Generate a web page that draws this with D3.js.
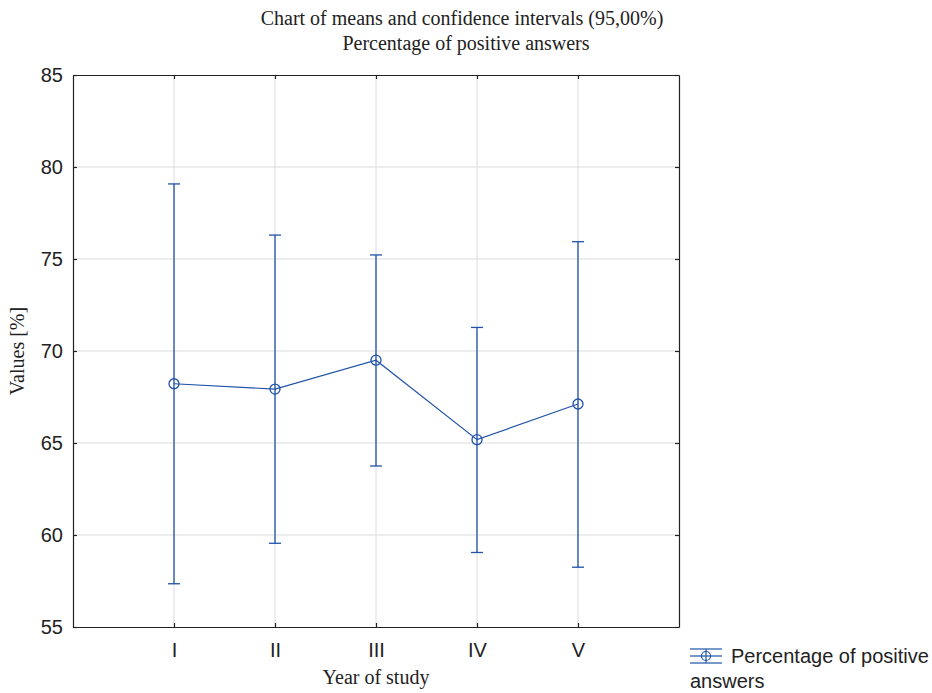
<!DOCTYPE html>
<html>
<head>
<meta charset="utf-8">
<script src="https://cdn.jsdelivr.net/npm/d3@7"></script>
<style>
  body { margin: 0; background: #fff; }
</style>
</head>
<body>
<div id="chart"></div>
<script>
const categories = ["I", "II", "III", "IV", "V"]
const means = [68.22, 67.93, 69.50, 65.18, 67.12]
const upper = [79.08, 76.30, 75.22, 71.28, 75.94]
const lower = [57.35, 59.55, 63.75, 59.05, 58.25]
const yTicks = [55, 60, 65, 70, 75, 80, 85]

const width = 932, height = 693
const plot = { left: 73, top: 75, right: 679, bottom: 627 }
const blue = "#1f52a8"
const sans = "Liberation Sans, Arial, sans-serif"
const serif = "Liberation Serif, Times New Roman, serif"

const svg = d3.select("#chart").append("svg")
    .attr("width", width)
    .attr("height", height)

// scales: categories sit at 1..5 on a 0..6 axis
const x = d3.scaleLinear().domain([0, categories.length + 1]).range([plot.left, plot.right])
const y = d3.scaleLinear().domain([55, 85]).range([plot.bottom, plot.top])

// Grid
svg.append("g")
    .attr("stroke", "#dcdcdc")
    .attr("stroke-width", 1)
    .selectAll("line")
    .data(categories)
    .join("line")
    .attr("x1", (d, i) => x(i + 1)).attr("x2", (d, i) => x(i + 1))
    .attr("y1", plot.top).attr("y2", plot.bottom)

svg.append("g")
    .attr("stroke", "#dcdcdc")
    .attr("stroke-width", 1)
    .selectAll("line")
    .data(yTicks.slice(1, -1))
    .join("line")
    .attr("x1", plot.left).attr("x2", plot.right)
    .attr("y1", d => y(d)).attr("y2", d => y(d))

// Axes (ticks pointing inward)
const yAxis = svg.append("g")
    .attr("transform", `translate(${plot.left},0)`)
    .call(d3.axisLeft(y).tickValues(yTicks).tickSizeInner(-4).tickSizeOuter(0).tickPadding(10))
yAxis.selectAll("text")
    .attr("font-family", sans)
    .attr("font-size", 20)
    .attr("fill", "#222")

const xAxis = svg.append("g")
    .attr("transform", `translate(0,${plot.bottom})`)
    .call(d3.axisBottom(x).tickValues(d3.range(1, categories.length + 1))
        .tickFormat(d => categories[d - 1]).tickSizeInner(-4).tickSizeOuter(0).tickPadding(16))
xAxis.selectAll("text")
    .attr("font-family", sans)
    .attr("font-size", 20)
    .attr("fill", "#222")

svg.append("g")
    .attr("transform", `translate(0,${plot.top})`)
    .call(d3.axisTop(x).tickValues(d3.range(1, categories.length + 1)).tickFormat("").tickSizeInner(-4).tickSizeOuter(0))
svg.append("g")
    .attr("transform", `translate(${plot.right},0)`)
    .call(d3.axisRight(y).tickValues(yTicks).tickFormat("").tickSizeInner(-4).tickSizeOuter(0))

svg.selectAll(".domain, .tick line").attr("stroke", "#222").attr("stroke-width", 1.2)

// Series line
const pts = categories.map((c, i) => ({ c, i, m: means[i], lo: lower[i], hi: upper[i] }))

svg.append("path")
    .datum(pts)
    .attr("fill", "none")
    .attr("stroke", blue)
    .attr("stroke-width", 1.2)
    .attr("d", d3.line().x(d => x(d.i + 1)).y(d => y(d.m)))

// Error bars
const bars = svg.append("g")
    .attr("stroke", blue)
    .attr("stroke-width", 1.3)
    .selectAll("g")
    .data(pts)
    .join("g")

bars.append("line")
    .attr("x1", d => x(d.i + 1)).attr("x2", d => x(d.i + 1))
    .attr("y1", d => y(d.hi)).attr("y2", d => y(d.lo))
bars.append("line")
    .attr("x1", d => x(d.i + 1) - 6).attr("x2", d => x(d.i + 1) + 6)
    .attr("y1", d => y(d.hi)).attr("y2", d => y(d.hi))
bars.append("line")
    .attr("x1", d => x(d.i + 1) - 6).attr("x2", d => x(d.i + 1) + 6)
    .attr("y1", d => y(d.lo)).attr("y2", d => y(d.lo))
bars.append("circle")
    .attr("cx", d => x(d.i + 1)).attr("cy", d => y(d.m))
    .attr("r", 5)
    .attr("fill", "none")

// Titles
svg.append("text")
    .attr("x", 462).attr("y", 25)
    .attr("text-anchor", "middle")
    .attr("font-family", serif).attr("font-size", 20).attr("fill", "#222")
    .text("Chart of means and confidence intervals (95,00%)")
svg.append("text")
    .attr("x", 466).attr("y", 50)
    .attr("text-anchor", "middle")
    .attr("font-family", serif).attr("font-size", 20).attr("fill", "#222")
    .text("Percentage of positive answers")

svg.append("text")
    .attr("x", (plot.left + plot.right) / 2).attr("y", 684)
    .attr("text-anchor", "middle")
    .attr("font-family", serif).attr("font-size", 20).attr("fill", "#222")
    .text("Year of study")

svg.append("text")
    .attr("transform", `translate(24,${(plot.top + plot.bottom) / 2}) rotate(-90)`)
    .attr("text-anchor", "middle")
    .attr("font-family", serif).attr("font-size", 20).attr("fill", "#222")
    .text("Values [%]")

// Legend
const legend = svg.append("g").attr("transform", "translate(706,656)")
legend.append("g").attr("stroke", blue).attr("stroke-width", 1.2)
    .call(g => {
        g.append("line").attr("x1", -16).attr("x2", 16).attr("y1", -7).attr("y2", -7)
        g.append("line").attr("x1", -16).attr("x2", 16).attr("y1", 0).attr("y2", 0)
        g.append("line").attr("x1", -16).attr("x2", 16).attr("y1", 7).attr("y2", 7)
        g.append("line").attr("x1", 0).attr("x2", 0).attr("y1", -7).attr("y2", 7)
        g.append("circle").attr("r", 4.5).attr("fill", "none")
    })
legend.append("text")
    .attr("x", 25).attr("y", 7)
    .attr("font-family", sans).attr("font-size", 20).attr("fill", "#222")
    .text("Percentage of positive")
legend.append("text")
    .attr("x", -16).attr("y", 32)
    .attr("font-family", sans).attr("font-size", 20).attr("fill", "#222")
    .text("answers")
</script>
</body>
</html>
